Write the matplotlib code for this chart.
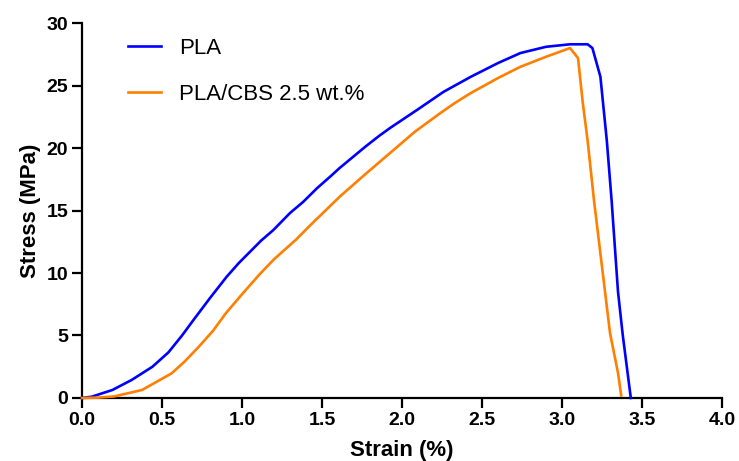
import matplotlib.pyplot as plt

plt.rcParams['font.family'] = ['Liberation Sans', 'DejaVu Sans']

# PLA
strain_pla = [0.0, 0.06, 0.19, 0.31, 0.44, 0.54, 0.625, 0.70, 0.80, 0.904,
              0.98, 1.05, 1.12, 1.196, 1.30, 1.383, 1.47, 1.55, 1.61, 1.77,
              1.86, 1.925, 2.1, 2.26, 2.43, 2.6, 2.74, 2.9, 3.05, 3.16, 3.19,
              3.24, 3.28, 3.31, 3.35, 3.38, 3.41, 3.43]
stress_pla = [0.0, 0.1, 0.64, 1.44, 2.5, 3.65, 5.0, 6.3, 8.0, 9.7,
              10.8, 11.7, 12.6, 13.44, 14.8, 15.7, 16.8, 17.7, 18.4, 20.1,
              21.0, 21.6, 23.1, 24.5, 25.7, 26.8, 27.6, 28.1, 28.3, 28.3, 28.0,
              25.7, 20.6, 15.8, 8.5, 5.0, 2.0, 0.0]

# PLA/CBS 2.5 wt.%
strain_cbs = [0.0, 0.1, 0.2, 0.375, 0.56, 0.64, 0.73, 0.82, 0.9, 1.0,
              1.11, 1.2, 1.34, 1.425, 1.61, 1.77, 1.925, 2.08, 2.24, 2.33,
              2.43, 2.6, 2.74, 2.9, 3.05, 3.1, 3.13, 3.16, 3.2, 3.25, 3.3,
              3.35, 3.37]
stress_cbs = [0.0, 0.03, 0.12, 0.64, 1.97, 2.9, 4.1, 5.4, 6.8, 8.3,
              9.9, 11.1, 12.7, 13.8, 16.1, 17.9, 19.6, 21.3, 22.8, 23.6,
              24.4, 25.6, 26.5, 27.3, 28.0, 27.2, 23.6, 20.6, 15.8, 10.5, 5.2,
              2.0, 0.2]

fig = plt.figure(figsize=(7.39, 4.61), dpi=100)
ax = fig.add_axes([0.111, 0.1367, 0.866, 0.8133])

ax.plot(strain_pla, stress_pla, color='#0000FF', lw=1.9, label='PLA',
        clip_on=False, zorder=3)
ax.plot(strain_cbs, stress_cbs, color='#FF7F00', lw=1.9,
        label='PLA/CBS 2.5 wt.%', clip_on=False, zorder=3)

ax.set_xlim(0, 4.0)
ax.set_ylim(0, 30)
ax.set_xticks([0.0, 0.5, 1.0, 1.5, 2.0, 2.5, 3.0, 3.5, 4.0])
ax.set_xticklabels([f'{v:.1f}' for v in ax.get_xticks()])
ax.set_yticks([0, 5, 10, 15, 20, 25, 30])

for s in ['top', 'right']:
    ax.spines[s].set_visible(False)
for s in ['left', 'bottom']:
    ax.spines[s].set_linewidth(1.6)

ax.tick_params(direction='out', length=7, width=1.6, labelsize=14, pad=3)
for lab in ax.get_xticklabels() + ax.get_yticklabels():
    lab.set_fontweight('bold')

ax.set_xlabel('Strain (%)', fontsize=16, fontweight='bold', labelpad=8)
ax.set_ylabel('Stress (MPa)', fontsize=16, fontweight='bold', labelpad=4)

ax.legend(loc='upper left', bbox_to_anchor=(0.072, 0.96), frameon=False,
          fontsize=16, handlelength=1.5, handletextpad=0.8, labelspacing=1.12,
          borderpad=0, borderaxespad=0)

fig.savefig('out.png', dpi=100)
